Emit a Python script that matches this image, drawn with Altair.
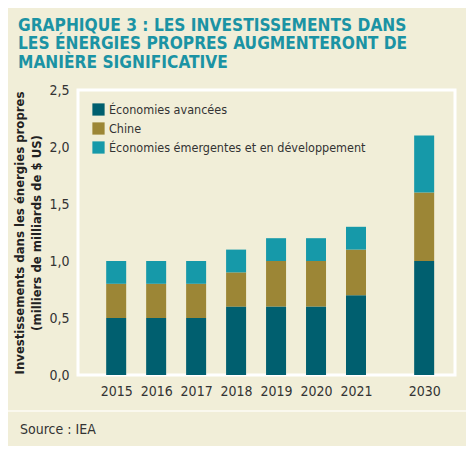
import pandas as pd
import altair as alt

annees = [2015, 2016, 2017, 2018, 2019, 2020, 2021, 2030]
avancees = [0.5, 0.5, 0.5, 0.6, 0.6, 0.6, 0.7, 1.0]
chine = [0.3, 0.3, 0.3, 0.3, 0.4, 0.4, 0.4, 0.6]
emergentes = [0.2, 0.2, 0.2, 0.2, 0.2, 0.2, 0.2, 0.5]
groupes = ['Économies avancées', 'Chine', 'Économies émergentes et en développement']
couleurs = ['#005f6f', '#9c8636', '#1699a9']
graduations = [0, 0.5, 1.0, 1.5, 2.0, 2.5]

fond = '#f1eed8'
police = 'DejaVu Sans Condensed, sans-serif'

lignes = []
for serie, valeurs in enumerate([avancees, chine, emergentes]):
    for annee, v in zip(annees, valeurs):
        lignes.append({'annee': annee, 'groupe': groupes[serie], 'ordre': serie, 'valeur': v})
df = pd.DataFrame(lignes)

#------------------------------------------------------------------------- barres empilées
barres = alt.Chart(df).mark_bar(size=20, orient='vertical').encode(
    x = alt.X('annee:Q',
              scale = alt.Scale(domain=[2015, 2021, 2030], range=[28.5, 278, 348], nice=False, zero=False),
              axis = alt.Axis(values=annees, format='d', title=None, ticks=False, domain=False,
                              grid=False, labelFontSize=14, labelColor='#333333', labelPadding=9,
                              labelFont=police)),
    y = alt.Y('valeur:Q', stack='zero',
              scale = alt.Scale(domain=[0, 2.5], nice=False),
              axis = alt.Axis(values=graduations, labelExpr="replace(format(datum.value, '.1f'), '.', ',')",
                              title=['Investissements dans les énergies propres', '(milliers de milliards de $ US)'],
                              titleFontSize=13, titleFontWeight='bold', titleColor='#222222', titleFont=police,
                              titlePadding=5, titleLineHeight=17,
                              ticks=False, domain=False, grid=False, labelFontSize=14,
                              labelColor='#333333', labelPadding=9, labelFont=police)),
    color = alt.Color('groupe:N', scale=alt.Scale(domain=groupes, range=couleurs),
                      legend=alt.Legend(title=None, orient='none', legendX=14, legendY=13,
                                        symbolType='square', symbolSize=150, symbolStrokeWidth=0,
                                        labelFontSize=12.5, labelColor='#333333', labelFont=police,
                                        labelLimit=400, rowPadding=6, symbolOpacity=1)),
    order = alt.Order('ordre:Q', sort='ascending'),
    tooltip = ['annee:Q', 'groupe:N', 'valeur:Q']
)

#------------------------------------------------------------------------- séparateur et source
separateur = alt.Chart(pd.DataFrame({'s': [0]})).mark_rule(color='#faf8ee', strokeWidth=2).encode(
    x = alt.value(-80), x2 = alt.value(400), y = alt.value(321)
)
source = alt.Chart(pd.DataFrame({'texte': ['Source : IEA']})).mark_text(
    align='left', baseline='middle', fontSize=14, color='#333333', font=police
).encode(
    x = alt.value(-58), y = alt.value(340), text = 'texte:N'
)

chart = alt.layer(barres, separateur, source).properties(
    width = 377,
    height = 285,
    autosize = alt.AutoSizeParams(type='none'),
    padding = {'left': 70, 'top': 82, 'right': 11, 'bottom': 71},
    background = fond,
    title = alt.Title(['GRAPHIQUE 3 : LES INVESTISSEMENTS DANS', 'LES ÉNERGIES PROPRES AUGMENTERONT DE',
                       'MANIÈRE SIGNIFICATIVE'],
                      anchor='start', frame='group', dx=-60, offset=12, fontSize=17.2, lineHeight=18.5,
                      fontWeight='bold', color='#1b93a4', font=police)
).configure_view(
    stroke='white', strokeWidth=3, fill=fond
)

chart.save('out.html', embed_options={'renderer': 'svg', 'actions': False})
